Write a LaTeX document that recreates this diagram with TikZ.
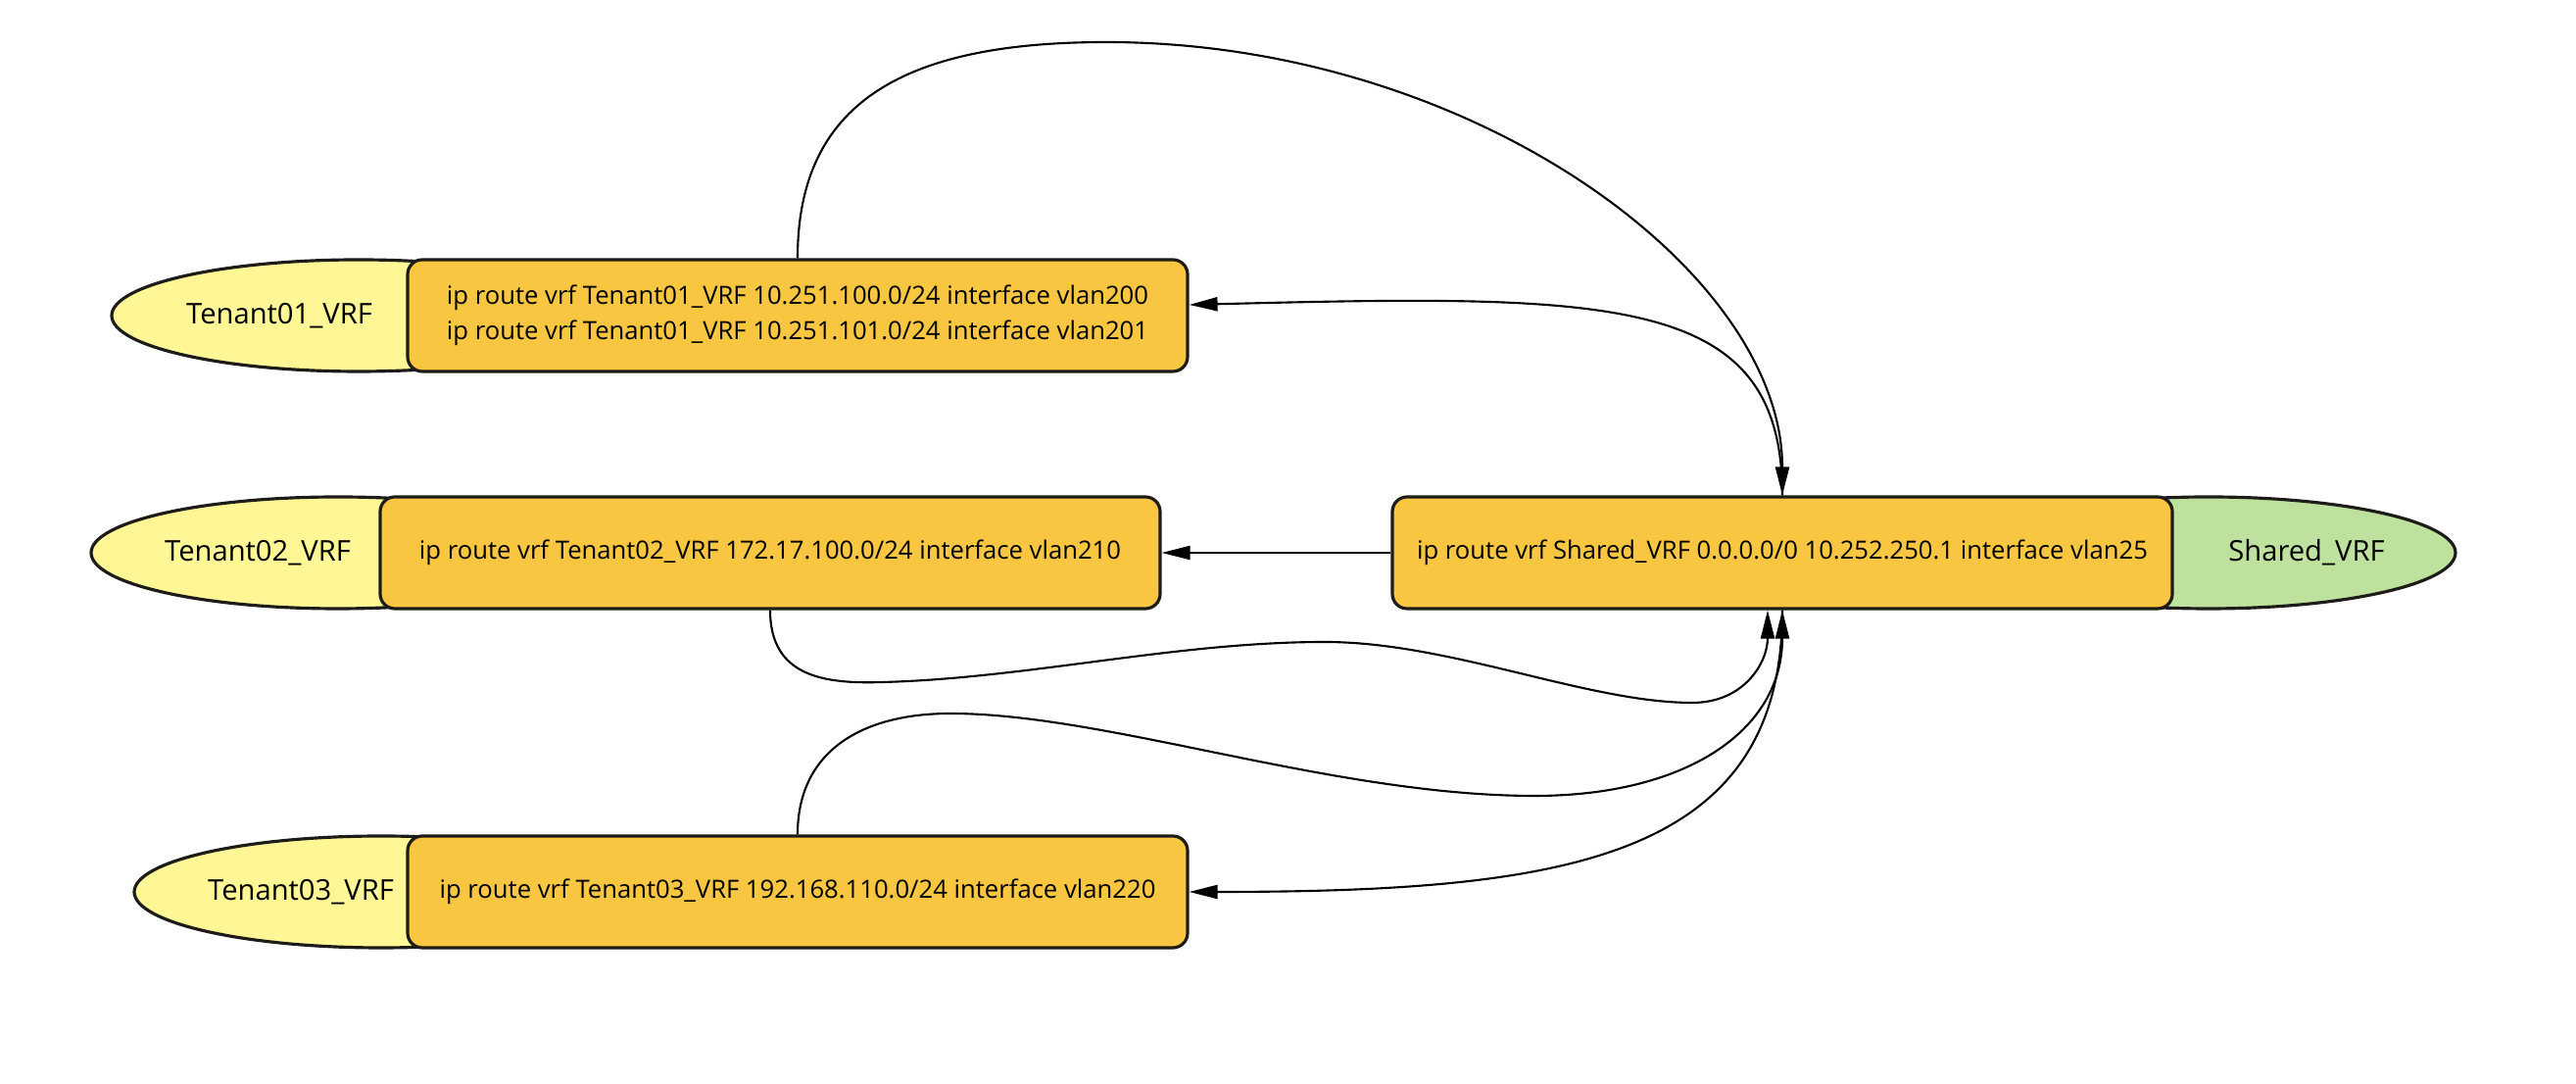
\documentclass[tikz,border=0pt]{standalone}
\usepackage{fontspec}
\setmainfont{Open Sans}
\usetikzlibrary{arrows.meta, shapes.geometric}
\definecolor{tenantyellow}{RGB}{255,246,150}
\definecolor{routeorange}{RGB}{248,198,64}
\definecolor{sharedgreen}{RGB}{190,226,157}
\definecolor{outline}{RGB}{30,28,24}
\tikzset{
  vrf/.style={ellipse, draw=outline, line width=0.9pt, minimum width=5.04cm, minimum height=1.14cm, inner sep=0pt},
  vrflabel/.style={font=\fontsize{8.3}{10}\selectfont},
  route/.style={rectangle, rounded corners=0.15cm, draw=outline, line width=0.9pt, fill=routeorange, minimum width=7.96cm, minimum height=1.14cm, align=center, font=\fontsize{7.3}{10.2}\selectfont},
  link/.style={line width=0.6pt, -{Triangle[length=2.9mm,width=1.4mm]}}
}

\begin{document}
\begin{tikzpicture}
\useasboundingbox (0,0) rectangle (26.29,11.06);

\node (t1vrf) at (3.66,7.84)[vrf, fill=tenantyellow] {};
\node (t2vrf) at (3.45,5.42)[vrf, fill=tenantyellow] {};
\node (t3vrf) at (3.89,1.96)[vrf, fill=tenantyellow] {};
\node (shvrf) at (22.54,5.42)[vrf, fill=sharedgreen] {};
\node (t1lbl) at (2.85,7.84)[vrflabel] {Tenant01\_VRF};
\node (t2lbl) at (2.63,5.42)[vrflabel] {Tenant02\_VRF};
\node (t3lbl) at (3.07,1.96)[vrflabel] {Tenant03\_VRF};
\node (shlbl) at (23.54,5.42)[vrflabel] {Shared\_VRF};

\node (t1box) at (8.14,7.84)[route] {ip route vrf Tenant01\_VRF 10.251.100.0/24 interface vlan200\\ip route vrf Tenant01\_VRF 10.251.101.0/24 interface vlan201};
\node (t2box) at (7.86,5.42)[route] {ip route vrf Tenant02\_VRF 172.17.100.0/24 interface vlan210};
\node (t3box) at (8.14,1.96)[route] {ip route vrf Tenant03\_VRF 192.168.110.0/24 interface vlan220};
\node (shbox) at (18.19,5.42)[route] {ip route vrf Shared\_VRF 0.0.0.0/0 10.252.250.1 interface vlan25};

\draw[link] (t1box.north) .. controls (8.14,10.0) and (9.2,10.63) .. (11.29,10.63)
  .. controls (15.0,10.63) and (18.19,8.3) .. (shbox.north);
\draw[link] (shbox.north) .. controls (18.19,8.06) and (16.5,8.06) .. ([yshift=0.11cm]t1box.east);
\draw[link] (shbox.west) -- (t2box.east);
\draw[link] (t2box.south) .. controls (7.86,4.16) and (8.40,4.08) .. (9.01,4.10)
  .. controls (10.5,4.14) and (12.0,4.51) .. (13.52,4.51)
  .. controls (14.8,4.51) and (16.2,3.89) .. (17.27,3.89)
  .. controls (17.8,3.89) and (18.04,4.3) .. ([xshift=-0.15cm]shbox.south);
\draw[link] (t3box.north) .. controls (8.14,3.4) and (8.8,3.78) .. (9.70,3.78)
  .. controls (11.3,3.78) and (13.6,2.94) .. (15.66,2.94)
  .. controls (17.2,2.94) and (18.19,3.6) .. (shbox.south);
\draw[link] (shbox.south) .. controls (18.19,2.3) and (16.0,1.96) .. (t3box.east);
\end{tikzpicture}
\end{document}
